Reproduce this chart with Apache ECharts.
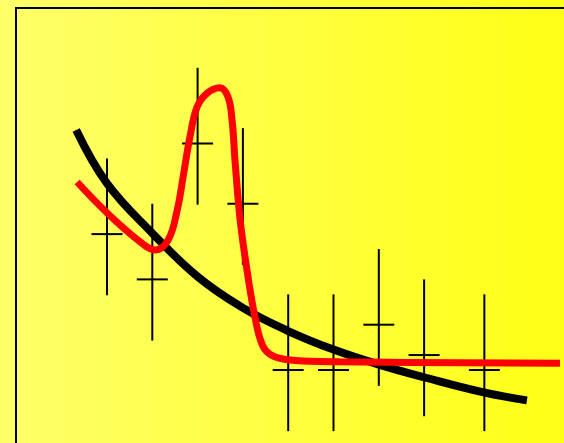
<!DOCTYPE html>
<html>
<head>
<meta charset="utf-8">
<script src="https://cdn.jsdelivr.net/npm/echarts@6/dist/echarts.min.js"></script>
<style>
  html, body { margin: 0; padding: 0; }
  #chart { width: 564px; height: 443px; }
</style>
</head>
<body>
<div id="chart"></div>
<script>
// measured points with asymmetric error bars
var pointX = [1, 2, 3, 4, 5, 6, 7, 8, 9.33];
var pointY = [4, 3, 6, 4.67, 1, 1, 2, 1.33, 1];
var errUp = 1.67;
var errDown = 1.35;

// black fit curve
var fitX = [0.32, 1, 2, 3, 4, 5, 6, 7, 8, 9.34, 10.27];
var fitY = [6.30, 5.12, 4.02, 3.06, 2.37, 1.86, 1.45, 1.12, 0.84, 0.50, 0.33];

// red model curve
var modelX = [0.34, 1.0, 1.73, 2.06, 2.35, 2.55, 2.68, 2.83, 2.99, 3.21, 3.49, 3.67, 3.76, 3.83, 3.94, 4.09, 4.27, 4.44, 4.66, 5.04, 6.14, 11.0];
var modelY = [5.15, 4.47, 3.83, 3.65, 3.87, 4.53, 5.26, 6.14, 6.81, 7.11, 7.23, 7.03, 6.52, 5.57, 4.31, 3.21, 2.15, 1.53, 1.31, 1.22, 1.18, 1.15];

function pairs(xs, ys) {
  return xs.map(function (x, i) { return [x, ys[i]]; });
}

var barData = pointX.map(function (x, i) {
  return [x, pointY[i], pointY[i] - errDown, pointY[i] + errUp];
});

// one unit is ~45.3px on both axes; the plot runs past the window edges
var unit = 45.3;
var myChart = echarts.init(document.getElementById('chart'));
var option = {
  animation: false,
  graphic: [
    {
      type: 'rect',
      shape: { x: 0, y: 0, width: 564, height: 443 },
      style: {
        fill: new echarts.graphic.LinearGradient(0, 0, 1, 0, [
          { offset: 0, color: '#ffff6a' },
          { offset: 1, color: '#ffff16' }
        ])
      },
      silent: true
    },
    {
      type: 'rect',
      shape: { x: 16, y: 8, width: 620, height: 500 },
      style: { fill: 'none', stroke: '#000', lineWidth: 2 },
      silent: true
    }
  ],
  grid: { left: 0, right: 0, top: 0, bottom: 0 },
  xAxis: { type: 'value', min: -61.7 / unit, max: 10 + 49.3 / unit, show: false },
  yAxis: { type: 'value', min: -27.7 / unit, max: 8 + 52.9 / unit, show: false },
  series: [
    {
      type: 'custom',
      z: 2,
      data: barData,
      renderItem: function (params, api) {
        var mid = api.coord([api.value(0), api.value(1)]);
        var lo = api.coord([api.value(0), api.value(2)]);
        var hi = api.coord([api.value(0), api.value(3)]);
        var st = { stroke: '#000', lineWidth: 2 };
        return {
          type: 'group',
          children: [
            { type: 'line', shape: { x1: mid[0], y1: lo[1], x2: mid[0], y2: hi[1] }, style: st },
            { type: 'line', shape: { x1: mid[0] - 15.5, y1: mid[1], x2: mid[0] + 15.5, y2: mid[1] }, style: st }
          ]
        };
      }
    },
    {
      type: 'line',
      z: 3,
      data: pairs(fitX, fitY),
      smooth: 0.4,
      symbol: 'none',
      lineStyle: { color: '#000', width: 8 }
    },
    {
      type: 'line',
      z: 4,
      data: pairs(modelX, modelY),
      smooth: 0.4,
      symbol: 'none',
      lineStyle: { color: '#ff0000', width: 7 }
    }
  ]
};
myChart.setOption(option);
</script>
</body>
</html>
